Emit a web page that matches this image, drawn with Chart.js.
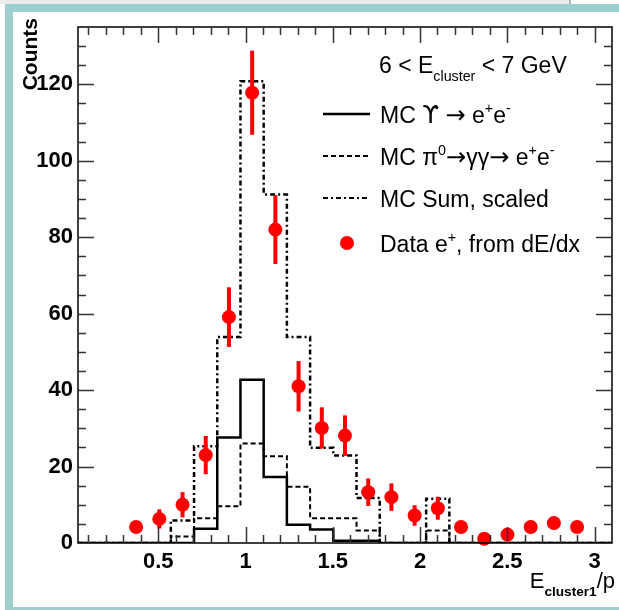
<!DOCTYPE html>
<html>
<head>
<meta charset="utf-8">
<title>E/p distribution</title>
<script src="https://cdn.jsdelivr.net/npm/chart.js@4.4.0/dist/chart.umd.min.js"></script>
<style>
  html, body { margin: 0; padding: 0; background: #fff; }
  body { width: 619px; height: 610px; position: relative; overflow: hidden; }
  #tab { position: absolute; left: 0; top: 0; width: 569px; height: 4px; background: #ececec; border-right: 2px solid #b4b4b4; }
  #frame { position: absolute; left: 5px; top: 4px; width: 700px; height: 611px; box-sizing: border-box; border: 8px solid #9dcfcf; }
  #wrap { position: absolute; left: 0; top: 0; width: 619px; height: 610px; }
</style>
</head>
<body>
<div id="tab"></div>
<div id="frame"></div>
<div id="wrap"><canvas id="chart" width="619" height="610"></canvas></div>
<script>
// E_cluster1/p for 6 < E_cluster < 7 GeV

const FONT = '"Liberation Sans", Arial, Helvetica, sans-serif';
const SYMFONT = '"DejaVu Sans", sans-serif';

// histogram binning (23 bins)
const binEdges = [0.040, 0.173, 0.306, 0.439, 0.572, 0.705, 0.838, 0.971, 1.104, 1.237,
                  1.370, 1.503, 1.636, 1.769, 1.902, 2.035, 2.168, 2.301, 2.434, 2.567,
                  2.700, 2.833, 2.966, 3.099];

// MC histograms, one value per bin
const mcUpsilon = [0, 0, 0, 0, 0, 3.7, 27.6, 42.7, 17.3, 4.8, 3.5, 0.6, 0.6, 0, 0, 0, 0, 0, 0, 0, 0, 0, 0];
const mcPi0     = [0, 0, 0, 0, 1.7, 6.5, 9.6, 26.0, 22.7, 14.7, 6.5, 6.5, 3.3, 0, 0, 3.3, 0, 0, 0, 0, 0, 0, 0];
const mcSum     = [0, 0, 0, 0, 5.9, 25.3, 53.9, 120.8, 91.2, 53.9, 24.9, 22.9, 11.8, 0, 0, 11.6, 0, 0, 0, 0, 0, 0, 0];

// data points (positrons from dE/dx)
const dataX   = [0.373, 0.506, 0.639, 0.772, 0.905, 1.038, 1.171, 1.304, 1.437, 1.570,
                 1.703, 1.836, 1.969, 2.102, 2.235, 2.368, 2.501, 2.634, 2.767, 2.900];
const dataY   = [4.2, 6.3, 10.0, 23.0, 59.1, 117.8, 82.0, 41.0, 30.1, 28.1,
                 13.3, 12.0, 7.2, 9.1, 4.2, 1.1, 2.2, 4.2, 5.2, 4.2];
const dataErr = [0, 2.5, 3.3, 5.0, 7.8, 11.0, 9.0, 6.6, 5.4, 5.3,
                 3.6, 3.6, 2.7, 3.0, 0, 0, 0, 0, 0, 0];

// axes
const xMin = 0.04, xMax = 3.1;
const yMin = 0, yMax = 135;
const xTickValues = [0.5, 1, 1.5, 2, 2.5, 3];
const yTickValues = [0, 20, 40, 60, 80, 100, 120];

// line styles
const SOLID = [];
const DASHED = [5, 3];
const DASHDOT = [5, 3, 2, 3];

function histPoints(values) {
  // step outline: each edge carries the content of the bin that starts there
  const pts = values.map((v, i) => ({ x: binEdges[i], y: v }));
  pts.push({ x: binEdges[binEdges.length - 1], y: values[values.length - 1] });
  return pts;
}

function histDataset(label, values, dash, width) {
  return {
    type: 'line',
    label: label,
    data: histPoints(values),
    stepped: 'before',
    borderColor: '#000',
    borderWidth: width,
    borderDash: dash,
    pointRadius: 0,
    fill: false
  };
}

// text with sub/superscripts; parts = [text, kind, bold]
// kind: undefined (normal), 'sub', 'sup' or 'sym' (arrows, drawn in DejaVu)
function partFont(kind, bold, size) {
  if (kind === 'sym') return size * 1.05 + 'px ' + SYMFONT;
  const fs = (kind === 'sub' || kind === 'sup') ? size * 0.62 : size;
  return (bold ? 'bold ' : '') + fs + 'px ' + FONT;
}

function richWidth(ctx, parts, size) {
  let w = 0;
  parts.forEach(([t, kind, bold]) => {
    ctx.font = partFont(kind, bold, size);
    w += ctx.measureText(t).width;
  });
  return w;
}

function richText(ctx, x, y, parts, size) {
  let cx = x;
  parts.forEach(([t, kind, bold]) => {
    let dy = 0;
    if (kind === 'sub') dy = size * 0.35;
    if (kind === 'sup') dy = -size * 0.42;
    ctx.font = partFont(kind, bold, size);
    ctx.fillText(t, cx, y + dy);
    cx += ctx.measureText(t).width;
  });
}

const legendRows = [
  { kind: 'line', dash: SOLID, width: 2.5, baseline: 123,
    parts: [['MC '], ['\u03D2', 'sym'], [' '], ['\u2192', 'sym'], [' e'], ['+', 'sup'], ['e'], ['-', 'sup']] },
  { kind: 'line', dash: DASHED, width: 2, baseline: 165,
    parts: [['MC \u03C0'], ['0', 'sup'], ['\u2192', 'sym'], ['\u03B3\u03B3'], ['\u2192', 'sym'], [' e'], ['+', 'sup'], ['e'], ['-', 'sup']] },
  { kind: 'line', dash: DASHDOT, width: 2, baseline: 207,
    parts: [['MC Sum, scaled']] },
  { kind: 'dot', baseline: 252,
    parts: [['Data e'], ['+', 'sup'], [', from dE/dx']] }
];

const errorBars = {
  id: 'errorBars',
  afterDatasetsDraw(chart) {
    const ctx = chart.ctx, xs = chart.scales.x, ys = chart.scales.y;
    ctx.save();
    ctx.strokeStyle = '#ff0000';
    ctx.lineWidth = 4;
    dataX.forEach((x, i) => {
      if (!dataErr[i]) return;
      const px = xs.getPixelForValue(x);
      ctx.beginPath();
      ctx.moveTo(px, ys.getPixelForValue(dataY[i] - dataErr[i]));
      ctx.lineTo(px, ys.getPixelForValue(dataY[i] + dataErr[i]));
      ctx.stroke();
    });
    ctx.restore();
  }
};

const frameAndText = {
  id: 'frameAndText',
  afterDraw(chart) {
    const ctx = chart.ctx, a = chart.chartArea;
    const xs = chart.scales.x, ys = chart.scales.y;
    ctx.save();

    // frame with inward ticks on all four sides
    ctx.strokeStyle = '#000';
    ctx.lineWidth = 1.5;
    ctx.strokeRect(a.left, a.top, a.right - a.left, a.bottom - a.top);
    ctx.strokeStyle = '#333';
    ctx.lineWidth = 1.5;
    ctx.beginPath();
    for (let k = 1; k <= 31; k++) {
      const v = k / 10;
      if (v <= xMin || v >= xMax) continue;
      const len = (k % 5 === 0) ? 16 : 8;
      const px = Math.round(xs.getPixelForValue(v)) + 0.5;
      ctx.moveTo(px, a.bottom); ctx.lineTo(px, a.bottom - len);
      ctx.moveTo(px, a.top); ctx.lineTo(px, a.top + len);
    }
    for (let v = 5; v < yMax; v += 5) {
      const len = (v % 20 === 0) ? 16 : 8;
      const py = Math.round(ys.getPixelForValue(v)) + 0.5;
      ctx.moveTo(a.left, py); ctx.lineTo(a.left + len, py);
      ctx.moveTo(a.right, py); ctx.lineTo(a.right - len, py);
    }
    ctx.stroke();

    // axis titles
    ctx.fillStyle = '#000';
    ctx.textAlign = 'left';
    ctx.textBaseline = 'alphabetic';
    const xTitle = [['E'], ['cluster1', 'sub', true], ['/p']];
    const w = richWidth(ctx, xTitle, 22);
    richText(ctx, 615 - w, 588, xTitle, 22);

    ctx.save();
    ctx.translate(37, 18);
    ctx.rotate(-Math.PI / 2);
    ctx.textAlign = 'right';
    ctx.font = 'bold 21px ' + FONT;
    ctx.fillText('Counts', 0, 0);
    ctx.restore();

    // legend
    ctx.textAlign = 'left';
    richText(ctx, 379, 73, [['6 < E'], ['cluster', 'sub'], [' < 7 GeV']], 23);
    legendRows.forEach(row => {
      const cy = row.baseline - 9;
      if (row.kind === 'line') {
        ctx.strokeStyle = '#000';
        ctx.lineWidth = row.width;
        ctx.setLineDash(row.dash);
        ctx.beginPath();
        ctx.moveTo(323, cy); ctx.lineTo(370, cy);
        ctx.stroke();
        ctx.setLineDash([]);
      } else {
        ctx.fillStyle = '#ff0000';
        ctx.beginPath();
        ctx.arc(347, cy, 7, 0, Math.PI * 2);
        ctx.fill();
        ctx.fillStyle = '#000';
      }
      richText(ctx, 380, row.baseline, row.parts, 23);
    });
    ctx.restore();
  }
};

const ctx = document.getElementById('chart').getContext('2d');
new Chart(ctx, {
  data: {
    datasets: [
      {
        type: 'scatter',
        label: 'Data',
        data: dataX.map((x, i) => ({ x: x, y: dataY[i] })),
        pointRadius: 7,
        pointBackgroundColor: '#ff0000',
        pointBorderWidth: 0,
        clip: false
      },
      histDataset('MC Sum, scaled', mcSum, DASHDOT, 2.5),
      histDataset('MC pi0', mcPi0, DASHED, 2),
      histDataset('MC Upsilon', mcUpsilon, SOLID, 2.5)
    ]
  },
  options: {
    responsive: false,
    animation: false,
    layout: { padding: { left: 0, top: 27, right: 5, bottom: 0 } },
    plugins: { legend: { display: false }, tooltip: { enabled: false } },
    scales: {
      x: {
        type: 'linear',
        min: xMin,
        max: xMax,
        grid: { display: false, drawTicks: false },
        border: { display: false },
        afterBuildTicks: s => { s.ticks = xTickValues.map(v => ({ value: v })); },
        afterFit: s => { s.height = 67; },
        ticks: {
          autoSkip: false,
          maxRotation: 0,
          padding: 6,
          color: '#000',
          font: { family: FONT, size: 22, weight: 'bold' },
          callback: v => String(v)
        }
      },
      y: {
        type: 'linear',
        min: yMin,
        max: yMax,
        grid: { display: false, drawTicks: false },
        border: { display: false },
        afterBuildTicks: s => { s.ticks = yTickValues.map(v => ({ value: v })); },
        afterFit: s => { s.width = 78; },
        ticks: {
          padding: 5,
          color: '#000',
          font: { family: FONT, size: 22, weight: 'bold' },
          callback: v => String(v)
        }
      }
    }
  },
  plugins: [errorBars, frameAndText]
});
</script>
</body>
</html>
